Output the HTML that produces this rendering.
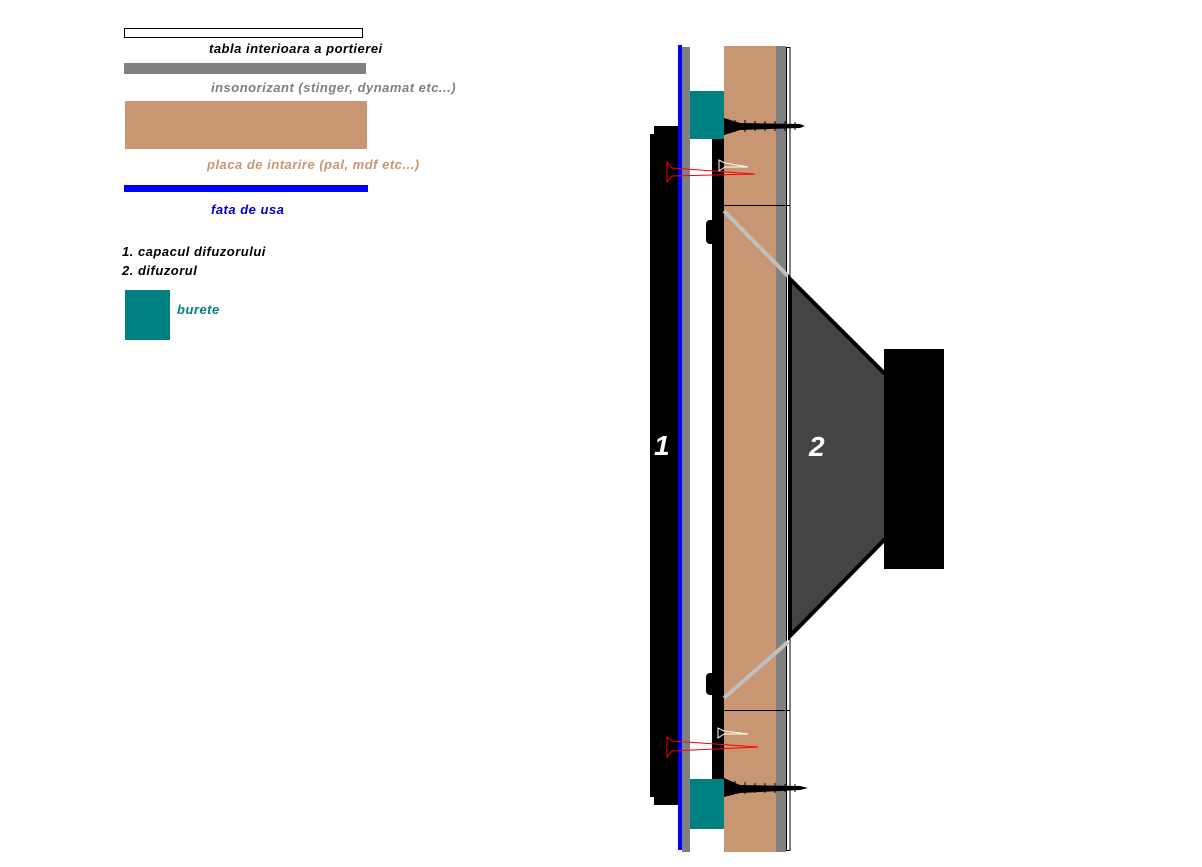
<!DOCTYPE html>
<html><head><meta charset="utf-8"><style>
html,body{margin:0;padding:0;background:#fff;}
svg{display:block}
text{font-family:"Liberation Sans",sans-serif;font-style:italic;font-weight:bold;font-size:13px;letter-spacing:0.5px}
</style></head><body>
<svg width="1202" height="867" viewBox="0 0 1202 867" xmlns="http://www.w3.org/2000/svg">
<!-- legend -->
<rect x="124.5" y="28.5" width="238" height="9" fill="#fff" stroke="#000"/>
<text x="209" y="53" fill="#000">tabla interioara a portierei</text>
<rect x="124" y="63" width="242" height="11" fill="#808080"/>
<text x="211" y="92" fill="#808080">insonorizant (stinger, dynamat etc...)</text>
<rect x="125" y="101" width="242" height="48" fill="#c89672"/>
<text x="207" y="169" fill="#c89672">placa de intarire (pal, mdf etc...)</text>
<rect x="124" y="185" width="244" height="7" fill="#0000ff"/>
<text x="211" y="214" fill="#0000cc">fata de usa</text>
<text x="122" y="256" fill="#000">1. capacul difuzorului</text>
<text x="122" y="275" fill="#000">2. difuzorul</text>
<rect x="125" y="290" width="45" height="50" fill="#008080"/>
<text x="177" y="314" fill="#008080">burete</text>

<!-- cover 1 -->
<path d="M654 126 H679 V805 H654 V797 H650 V134 H654 Z" fill="#000"/>
<!-- blue & gray -->
<rect x="678" y="45" width="4" height="805" fill="#0000ff"/>
<rect x="682" y="47" width="8" height="805" fill="#808080"/>
<!-- foam -->
<rect x="690" y="91" width="34" height="48" fill="#008080"/>
<rect x="690" y="779" width="35" height="50" fill="#008080"/>
<!-- inner black strip -->
<rect x="712" y="139" width="12" height="640" fill="#000"/>
<rect x="706" y="220" width="10" height="24" rx="4" fill="#000"/>
<rect x="706" y="673" width="10" height="22" rx="4" fill="#000"/>
<!-- wood -->
<rect x="724" y="46" width="52" height="806" fill="#c89672"/>
<rect x="776" y="46" width="10" height="806" fill="#808080"/>
<rect x="786.5" y="47.5" width="3.5" height="803" fill="#fff" stroke="#000"/>
<line x1="724" y1="205.5" x2="790" y2="205.5" stroke="#000"/>
<line x1="724" y1="710.5" x2="790" y2="710.5" stroke="#000"/>
<line x1="724" y1="211" x2="788" y2="276" stroke="#c0c0c0" stroke-width="4"/>
<line x1="724" y1="698" x2="788" y2="642" stroke="#c0c0c0" stroke-width="4"/>
<!-- speaker -->
<polygon points="790,279 886,375 886,538 790,636" fill="#444" stroke="#000" stroke-width="4"/>
<rect x="884" y="349" width="60" height="220" fill="#000"/>
<text x="654" y="455" fill="#fff" style="font-size:28px">1</text>
<text x="809" y="456" fill="#fff" style="font-size:28px">2</text>
<!-- screws -->
<path d="M724 118 L740 123 L800 124 L805 126 L800 128 L740 130 L724 135 Z" fill="#000"/>
<path d="M724 778 L740 785 L800 786 L808 788 L800 790 L740 793 L724 797 Z" fill="#000"/>
<g stroke="#000" stroke-width="1">
<path d="M735 120v12M745 120v12M755 121v10M765 121v10M775 121v10M785 121v10M795 122v8"/>
<path d="M735 781v13M745 782v12M755 783v10M765 783v10M775 783v10M785 784v8M795 784v8"/>
</g>
<g fill="none" stroke="#fff" stroke-width="1">
<path d="M719 160 V171 L725 167 H748 L725 163 Z"/>
<path d="M718 728 V738 L724 734 H748 L724 731 Z"/>
</g>
<g fill="none" stroke="#f00" stroke-width="1">
<path d="M667 162 V182 L672 176 L755 174 L672 168 Z"/>
<path d="M667 737 V757 L672 751 L758 747 L672 741 Z"/>
</g>
</svg>
</body></html>
